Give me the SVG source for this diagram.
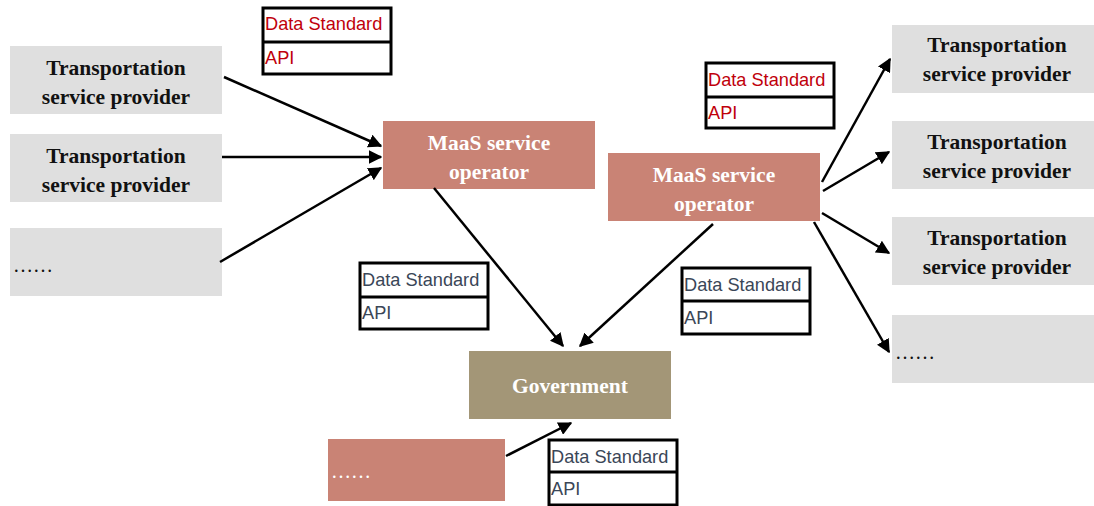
<svg xmlns="http://www.w3.org/2000/svg" width="1094" height="506" viewBox="0 0 1094 506">
  <style>
    .tsp { fill: #dfdfdf; }
    .maas { fill: #c98375; }
    .gov { fill: #a39677; }
    .title { font-family: "Liberation Serif", "Times New Roman", serif; font-weight: bold; font-size: 21.5px; text-anchor: middle; }
    .dark { fill: #111111; }
    .light { fill: #ffffff; }
    .dots { font-family: "Liberation Serif", serif; font-size: 20px; }
    .tbl rect { fill: #ffffff; stroke: #000000; stroke-width: 3; }
    .tbl line { stroke: #000000; stroke-width: 3; }
    .tbl text { font-family: "Liberation Sans", Arial, sans-serif; font-size: 18.2px; }
    .red text { fill: #c0000b; }
    .slate text { fill: #3a4657; }
    .conn line { stroke: #000000; stroke-width: 2.5; marker-end: url(#arrow); }
  </style>
  <defs>
    <marker id="arrow" viewBox="0 0 10 10" refX="9" refY="5" markerWidth="5.5" markerHeight="5.5" orient="auto" markerUnits="strokeWidth">
      <path d="M0,0 L10,5 L0,10 z" fill="#000000"/>
    </marker>
  </defs>

  <!-- left providers -->
  <g id="tsp-left-1">
    <rect class="tsp" x="10" y="46" width="212" height="68"/>
    <text class="title dark" x="116" y="75">Transportation</text>
    <text class="title dark" x="116" y="104">service provider</text>
  </g>
  <g id="tsp-left-2">
    <rect class="tsp" x="10" y="134" width="212" height="68"/>
    <text class="title dark" x="116" y="163">Transportation</text>
    <text class="title dark" x="116" y="192">service provider</text>
  </g>
  <g id="tsp-left-more">
    <rect class="tsp" x="10" y="228" width="212" height="68"/>
    <text class="dots dark" x="13" y="272">……</text>
  </g>

  <!-- operators -->
  <g id="maas-left">
    <rect class="maas" x="383" y="121" width="212" height="68"/>
    <text class="title light" x="489" y="150">MaaS service</text>
    <text class="title light" x="489" y="179">operator</text>
  </g>
  <g id="maas-right">
    <rect class="maas" x="608" y="153" width="212" height="68"/>
    <text class="title light" x="714" y="182">MaaS service</text>
    <text class="title light" x="714" y="211">operator</text>
  </g>

  <!-- right providers -->
  <g id="tsp-right-1">
    <rect class="tsp" x="892" y="25" width="202" height="68"/>
    <text class="title dark" x="997" y="52">Transportation</text>
    <text class="title dark" x="997" y="81">service provider</text>
  </g>
  <g id="tsp-right-2">
    <rect class="tsp" x="892" y="121" width="202" height="68"/>
    <text class="title dark" x="997" y="149">Transportation</text>
    <text class="title dark" x="997" y="178">service provider</text>
  </g>
  <g id="tsp-right-3">
    <rect class="tsp" x="892" y="217" width="202" height="68"/>
    <text class="title dark" x="997" y="245">Transportation</text>
    <text class="title dark" x="997" y="274">service provider</text>
  </g>
  <g id="tsp-right-more">
    <rect class="tsp" x="892" y="315" width="202" height="68"/>
    <text class="dots dark" x="895" y="359">……</text>
  </g>

  <!-- government and other party -->
  <g id="government">
    <rect class="gov" x="469" y="351" width="202" height="68"/>
    <text class="title light" x="570" y="393">Government</text>
  </g>
  <g id="other-party">
    <rect class="maas" x="328" y="439" width="177" height="62"/>
    <text class="dots light" x="331" y="478">……</text>
  </g>

  <!-- data standard / API tables -->
  <g id="std-top-left" class="tbl red">
    <rect x="263" y="8" width="128" height="66"/>
    <line x1="263" y1="42" x2="391" y2="42"/>
    <text x="265" y="30">Data Standard</text>
    <text x="265" y="64">API</text>
  </g>
  <g id="std-top-right" class="tbl red">
    <rect x="706" y="63" width="128" height="65"/>
    <line x1="706" y1="97" x2="834" y2="97"/>
    <text x="708" y="86">Data Standard</text>
    <text x="708" y="119">API</text>
  </g>
  <g id="std-mid-left" class="tbl slate">
    <rect x="360" y="263" width="128" height="66"/>
    <line x1="360" y1="297" x2="488" y2="297"/>
    <text x="362" y="286">Data Standard</text>
    <text x="362" y="319">API</text>
  </g>
  <g id="std-mid-right" class="tbl slate">
    <rect x="682" y="268" width="128" height="66"/>
    <line x1="682" y1="301" x2="810" y2="301"/>
    <text x="684" y="291">Data Standard</text>
    <text x="684" y="324">API</text>
  </g>
  <g id="std-bottom" class="tbl slate">
    <rect x="549" y="440" width="128" height="65"/>
    <line x1="549" y1="472" x2="677" y2="472"/>
    <text x="551" y="463">Data Standard</text>
    <text x="551" y="495">API</text>
  </g>

  <!-- connectors -->
  <g id="connectors" class="conn">
    <line x1="224" y1="77" x2="381" y2="146"/>
    <line x1="222" y1="157" x2="381" y2="157"/>
    <line x1="220" y1="262" x2="381" y2="168"/>
    <line x1="434" y1="188" x2="563" y2="346"/>
    <line x1="713" y1="224" x2="580" y2="346"/>
    <line x1="822" y1="182" x2="890" y2="59"/>
    <line x1="823" y1="191" x2="889" y2="152"/>
    <line x1="822" y1="213" x2="889" y2="253"/>
    <line x1="814" y1="222" x2="889" y2="352"/>
    <line x1="506" y1="456" x2="571" y2="423"/>
  </g>
</svg>
